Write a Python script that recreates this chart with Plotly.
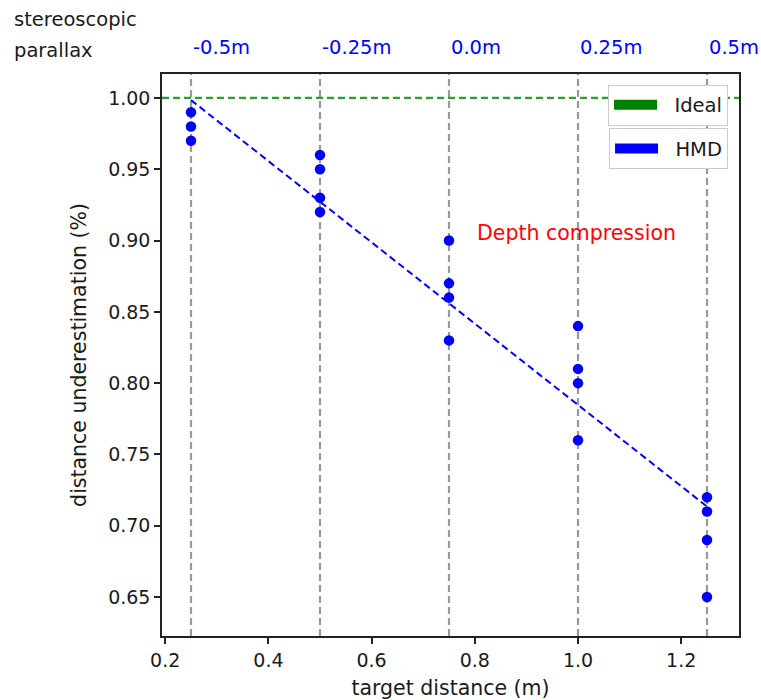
import plotly.graph_objects as go

# ---- data ----
target_distance = [0.25, 0.5, 0.75, 1.0, 1.25]
parallax_labels = ["-0.5m", "-0.25m", "0.0m", "0.25m", "0.5m"]

hmd_x = [0.25, 0.25, 0.25,
         0.5, 0.5, 0.5, 0.5,
         0.75, 0.75, 0.75, 0.75,
         1.0, 1.0, 1.0, 1.0,
         1.25, 1.25, 1.25, 1.25]
hmd_y = [0.99, 0.98, 0.97,
         0.96, 0.95, 0.93, 0.92,
         0.90, 0.87, 0.86, 0.83,
         0.84, 0.81, 0.80, 0.76,
         0.72, 0.71, 0.69, 0.65]

trend_x = [0.25, 1.25]
trend_y = [0.9985, 0.7135]

ideal_value = 1.0

x_ticks = [0.2, 0.4, 0.6, 0.8, 1.0, 1.2]
x_tick_text = ["0.2", "0.4", "0.6", "0.8", "1.0", "1.2"]
y_ticks = [0.65, 0.70, 0.75, 0.80, 0.85, 0.90, 0.95, 1.00]
y_tick_text = ["0.65", "0.70", "0.75", "0.80", "0.85", "0.90", "0.95", "1.00"]

FONT = "DejaVu Sans"
TXT = "#1a1a1a"

fig = go.Figure()

# vertical reference lines at each target distance
for d in target_distance:
    fig.add_vline(x=d, line=dict(color="#999999", width=2.2, dash="7px,4px"), layer="below")

# ideal line
fig.add_hline(y=ideal_value, line=dict(color="#2ca02c", width=2.2, dash="7px,4px"), layer="below")

# regression / trend line
fig.add_trace(go.Scatter(x=trend_x, y=trend_y, mode="lines",
                         line=dict(color="blue", width=2, dash="7px,4px"),
                         showlegend=False, hoverinfo="skip"))

# HMD measurements
fig.add_trace(go.Scatter(x=hmd_x, y=hmd_y, mode="markers",
                         marker=dict(color="blue", size=10.5, line=dict(width=0)),
                         showlegend=False))

# legend entries (patches)
fig.add_trace(go.Scatter(x=[None], y=[None], mode="lines", name="\u00a0\u00a0Ideal",
                         line=dict(color="green", width=16), legend="legend"))
fig.add_trace(go.Scatter(x=[None], y=[None], mode="lines", name="\u00a0\u00a0HMD",
                         line=dict(color="blue", width=16), legend="legend2"))

# top parallax labels
for d, lab in zip(target_distance, parallax_labels):
    fig.add_annotation(x=d, xref="x", y=1.0463, yref="paper", text=lab,
                       showarrow=False, xanchor="left", yanchor="middle",
                       font=dict(color="blue", size=19.5, family=FONT))

fig.add_annotation(x=-0.26, xref="paper", y=1.0961, yref="paper", text="stereoscopic",
                   showarrow=False, xanchor="left", yanchor="middle",
                   font=dict(color=TXT, size=19.5, family=FONT))
fig.add_annotation(x=-0.26, xref="paper", y=1.0426, yref="paper", text="parallax",
                   showarrow=False, xanchor="left", yanchor="middle",
                   font=dict(color=TXT, size=19.5, family=FONT))

fig.add_annotation(x=0.8, y=0.905, xref="x", yref="y", text="Depth compression",
                   showarrow=False, xanchor="left", yanchor="middle",
                   font=dict(color="red", size=20.5, family=FONT))

legend_common = dict(xanchor="right", yanchor="top", bgcolor="white",
                     bordercolor="#cccccc", borderwidth=1,
                     font=dict(size=19.5, family=FONT, color=TXT),
                     itemwidth=43)

fig.update_layout(
    width=761, height=700,
    margin=dict(l=162, r=22, t=74, b=64),
    plot_bgcolor="white", paper_bgcolor="white",
    font=dict(family=FONT, size=19, color=TXT),
    legend=dict(x=0.981, y=0.981, **legend_common),
    legend2=dict(x=0.981, y=0.9035, **legend_common),
    xaxis=dict(range=[0.1938, 1.312], tickvals=x_ticks, ticktext=x_tick_text,
               automargin=False,
               showgrid=False, zeroline=False, showline=True, linecolor="#222222",
               linewidth=1.5, mirror=True, ticks="outside", ticklen=6, tickwidth=1.5,
               tickcolor="#222222", tickfont=dict(size=19, family=FONT, color=TXT),
               title=dict(text="target distance (m)", font=dict(size=20.5, family=FONT, color=TXT),
                          standoff=13)),
    yaxis=dict(range=[0.6227, 1.0168], tickvals=y_ticks, ticktext=y_tick_text,
               automargin=False,
               showgrid=False, zeroline=False, showline=True, linecolor="#222222",
               linewidth=1.5, mirror=True, ticks="outside", ticklen=6, tickwidth=1.5,
               tickcolor="#222222", tickfont=dict(size=19, family=FONT, color=TXT),
               title=dict(text="distance underestimation (%)", font=dict(size=20.5, family=FONT, color=TXT),
                          standoff=16)),
)

fig.write_html("out.html", config={"displayModeBar": False},
               post_script="document.body.style.margin='0px';")
